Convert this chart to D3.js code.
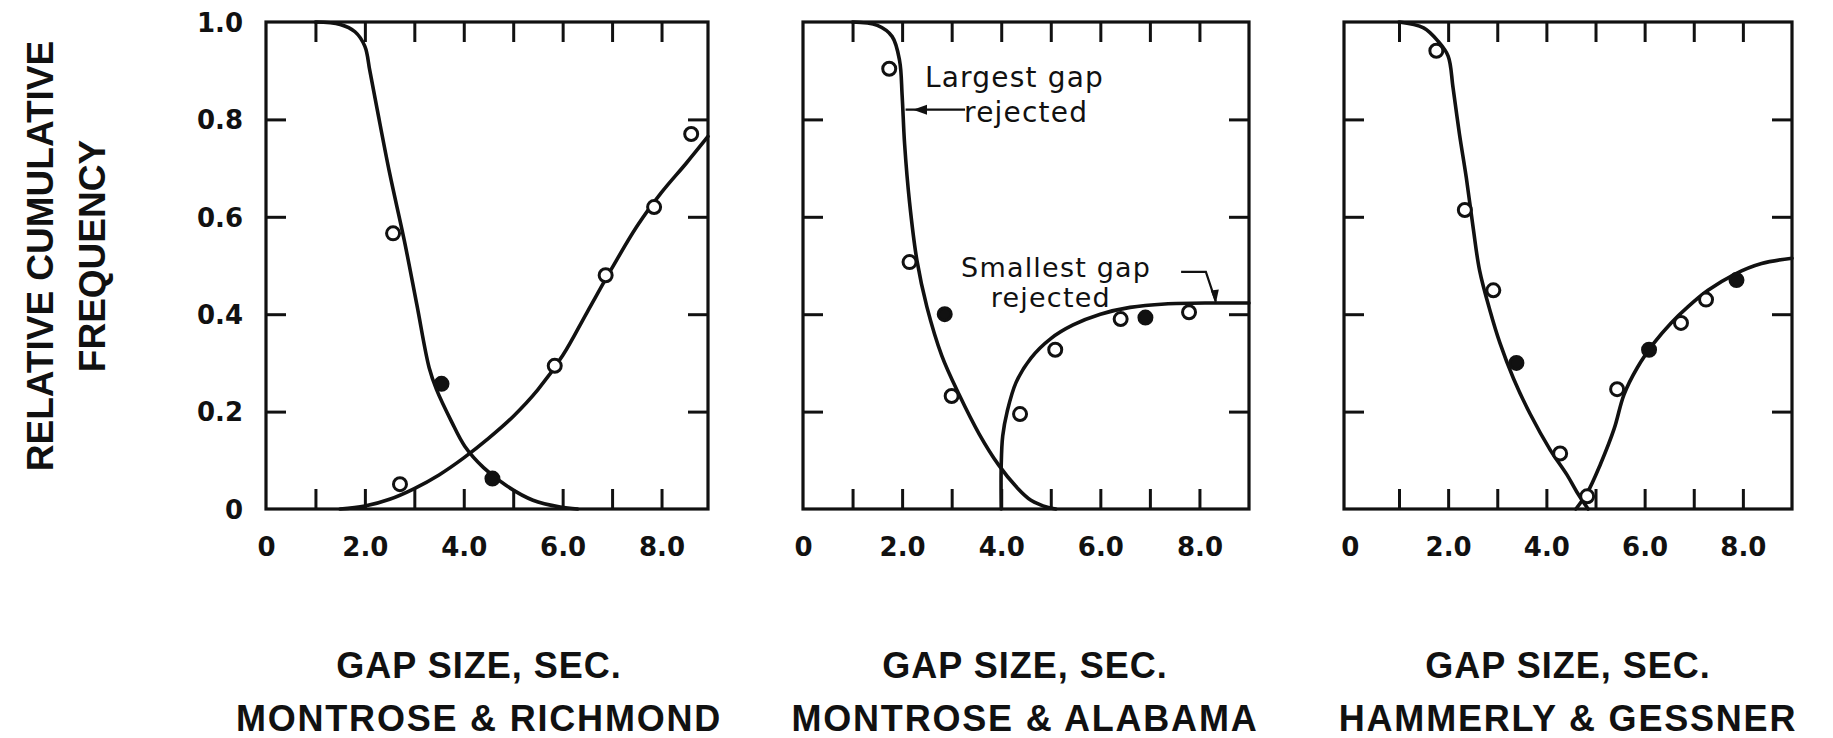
<!DOCTYPE html>
<html>
<head>
<meta charset="utf-8">
<script src="https://cdn.jsdelivr.net/npm/d3@7/dist/d3.min.js"></script>
<style>
  html, body { margin: 0; padding: 0; background: #fff; }
  svg { display: block; }
</style>
</head>
<body>
<svg id="chart" width="1833" height="738"></svg>
<script>
// Relative cumulative frequency of accepted / rejected gaps at three intersections

const stations = ["MONTROSE & RICHMOND", "MONTROSE & ALABAMA", "HAMMERLY & GESSNER"];
const xAxisTitle = "GAP SIZE, SEC.";
const yAxisTitle = ["RELATIVE CUMULATIVE", "FREQUENCY"];

const xTickValues = [0, 2, 4, 6, 8];
const xTickLabels = ["0", "2.0", "4.0", "6.0", "8.0"];
const xMinorTicks = [1, 2, 3, 4, 5, 6, 7, 8];
const yTickValues = [0, 0.2, 0.4, 0.6, 0.8, 1.0];
const yTickLabels = ["0", "0.2", "0.4", "0.6", "0.8", "1.0"];
const yMinorTicks = [0.2, 0.4, 0.6, 0.8];

// Fitted curves: [gap size (sec), relative cumulative frequency]
const richmondLargestCurve = [
  [1.0, 1.0], [1.5, 0.995], [1.8, 0.98], [2.0, 0.95], [2.1, 0.9], [2.25, 0.82],
  [2.5, 0.69], [2.8, 0.55], [3.05, 0.42], [3.3, 0.29], [3.45, 0.245], [3.75, 0.18],
  [4.02, 0.129], [4.4, 0.085], [4.86, 0.048], [5.4, 0.018], [5.95, 0.004], [6.3, 0.0]
];
const richmondSmallestCurve = [
  [1.5, 0.0], [2.0, 0.006], [2.5, 0.02], [3.0, 0.042], [3.5, 0.07], [4.0, 0.105],
  [4.5, 0.145], [5.0, 0.19], [5.5, 0.245], [6.0, 0.315], [6.5, 0.405], [7.0, 0.495],
  [7.5, 0.58], [8.0, 0.65], [8.5, 0.71], [8.94, 0.765]
];
const alabamaLargestCurve = [
  [1.0, 1.0], [1.5, 0.993], [1.8, 0.97], [1.95, 0.92], [2.0, 0.85], [2.05, 0.75],
  [2.15, 0.63], [2.3, 0.51], [2.5, 0.415], [2.8, 0.315], [3.15, 0.235], [3.55, 0.155],
  [3.95, 0.09], [4.3, 0.046], [4.6, 0.018], [4.95, 0.003], [5.1, 0.0]
];
const alabamaSmallestCurve = [
  [4.0, 0.0], [4.0, 0.09], [4.03, 0.15], [4.12, 0.2], [4.3, 0.26], [4.6, 0.31],
  [5.0, 0.35], [5.45, 0.378], [6.0, 0.4], [6.6, 0.414], [7.3, 0.421], [8.3, 0.423],
  [9.0, 0.423]
];
const gessnerLargestCurve = [
  [1.0, 1.0], [1.5, 0.988], [1.8, 0.96], [2.0, 0.93], [2.1, 0.865], [2.23, 0.77],
  [2.37, 0.68], [2.51, 0.577], [2.64, 0.49], [2.85, 0.408], [3.05, 0.342],
  [3.33, 0.268], [3.67, 0.195], [4.08, 0.121], [4.42, 0.07], [4.62, 0.035], [4.85, 0.0]
];
const gessnerSmallestCurve = [
  [4.6, 0.0], [4.83, 0.033], [5.1, 0.092], [5.38, 0.165], [5.58, 0.235], [5.85, 0.29],
  [6.2, 0.342], [6.54, 0.382], [6.88, 0.415], [7.29, 0.449], [7.83, 0.482],
  [8.38, 0.504], [9.0, 0.515]
];

// Observed frequencies
const richmondObserved = [
  [2.57, 0.566], [3.55, 0.257], [2.71, 0.051], [4.58, 0.0625],
  [5.84, 0.294], [6.87, 0.48], [7.85, 0.62], [8.6, 0.77]
];
const alabamaObserved = [
  [1.74, 0.904], [2.15, 0.507], [2.86, 0.40], [3.0, 0.232], [4.38, 0.195],
  [5.09, 0.327], [6.41, 0.39], [6.91, 0.393], [7.79, 0.404]
];
const gessnerObserved = [
  [1.76, 0.941], [2.34, 0.614], [2.92, 0.449], [3.39, 0.30], [4.28, 0.114],
  [4.83, 0.026], [5.44, 0.246], [6.09, 0.327], [6.74, 0.382], [7.25, 0.43], [7.87, 0.47]
];

const curvesByPanel = [
  [richmondLargestCurve, richmondSmallestCurve],
  [alabamaLargestCurve, alabamaSmallestCurve],
  [gessnerLargestCurve, gessnerSmallestCurve]
];
const observedByPanel = [richmondObserved, alabamaObserved, gessnerObserved];
// indices of observations drawn as solid dots
const solidMarks = [[1, 3], [2, 7], [3, 7, 10]];

// Panel frames
const frameTop = 22, frameBottom = 509;
const panels = [
  { left: 266, right: 708, xMin: 0, xMax: 8.94, labelX: 479 },
  { left: 803, right: 1249, xMin: 0, xMax: 9.0, labelX: 1025 },
  { left: 1344, right: 1792, xMin: -0.12, xMax: 9.0, labelX: 1568 }
];

const svg = d3.select("#chart");
const y = d3.scaleLinear().domain([0, 1]).range([frameBottom, frameTop]);
const INK = "#111";
const tickLen = 20;

const labelFont = "'DejaVu Sans', 'Liberation Sans', sans-serif";
const titleFont = "'Liberation Sans', Arial, sans-serif";

panels.forEach((p, i) => {
  const x = d3.scaleLinear().domain([p.xMin, p.xMax]).range([p.left, p.right]);
  const g = svg.append("g").attr("class", "panel");

  // inward ticks on all four sides
  const strip = sel => { sel.select(".domain").remove(); sel.selectAll("line").attr("stroke", INK).attr("stroke-width", 3); };
  g.append("g").attr("transform", `translate(0,${frameBottom})`)
    .call(d3.axisTop(x).tickValues(xMinorTicks).tickSize(tickLen).tickFormat(""))
    .call(strip);
  g.append("g").attr("transform", `translate(0,${frameTop})`)
    .call(d3.axisBottom(x).tickValues(xMinorTicks).tickSize(tickLen).tickFormat(""))
    .call(strip);
  g.append("g").attr("transform", `translate(${p.left},0)`)
    .call(d3.axisRight(y).tickValues(yMinorTicks).tickSize(tickLen).tickFormat(""))
    .call(strip);
  g.append("g").attr("transform", `translate(${p.right},0)`)
    .call(d3.axisLeft(y).tickValues(yMinorTicks).tickSize(tickLen).tickFormat(""))
    .call(strip);

  // frame
  g.append("rect")
    .attr("x", p.left).attr("y", frameTop)
    .attr("width", p.right - p.left).attr("height", frameBottom - frameTop)
    .attr("fill", "none").attr("stroke", INK).attr("stroke-width", 3.2);

  // x tick labels
  const xl = g.append("g").attr("transform", `translate(0,${frameBottom})`)
    .call(d3.axisBottom(x).tickValues(xTickValues).tickSize(0)
      .tickFormat((d, k) => xTickLabels[k]));
  xl.select(".domain").remove();
  xl.selectAll("text")
    .attr("y", 38).attr("dy", "0.36em")
    .attr("font-family", labelFont).attr("font-weight", "bold")
    .attr("font-size", 26).attr("fill", INK);

  // y tick labels on the first panel only
  if (i === 0) {
    const yl = g.append("g").attr("transform", `translate(${p.left},0)`)
      .call(d3.axisLeft(y).tickValues(yTickValues).tickSize(0).tickPadding(23)
        .tickFormat((d, k) => yTickLabels[k]));
    yl.select(".domain").remove();
    yl.selectAll("text")
      .attr("dy", "0.36em")
      .attr("font-family", labelFont).attr("font-weight", "bold")
      .attr("font-size", 26).attr("fill", INK);
  }

  // fitted curves
  const line = d3.line().x(d => x(d[0])).y(d => y(d[1]))
    .curve(d3.curveCatmullRom.alpha(0.5));
  curvesByPanel[i].forEach(c => {
    g.append("path").attr("d", line(c))
      .attr("fill", "none").attr("stroke", INK)
      .attr("stroke-width", 3.6).attr("stroke-linejoin", "round").attr("stroke-linecap", "round");
  });

  // observations
  g.selectAll("circle.obs").data(observedByPanel[i]).join("circle")
    .attr("class", "obs")
    .attr("cx", d => x(d[0])).attr("cy", d => y(d[1])).attr("r", 6.5)
    .attr("fill", (d, k) => solidMarks[i].includes(k) ? INK : "#fff")
    .attr("stroke", INK).attr("stroke-width", 3);

  // axis title and station name
  g.append("text").text(xAxisTitle)
    .attr("x", p.labelX).attr("y", 678).attr("text-anchor", "middle")
    .attr("font-family", titleFont).attr("font-weight", "bold")
    .attr("font-size", 36).attr("letter-spacing", 1).attr("fill", INK);
  g.append("text").text(stations[i])
    .attr("x", p.labelX).attr("y", 731).attr("text-anchor", "middle")
    .attr("font-family", titleFont).attr("font-weight", "bold")
    .attr("font-size", 36).attr("letter-spacing", 1.8).attr("fill", INK);

  if (i === 1) drawAnnotations(g, x);
});

function drawAnnotations(g, x) {
  const noteFont = "'DejaVu Sans', 'Liberation Sans', sans-serif";
  const note = (txt, xv, yv, size) => g.append("text").text(txt)
    .attr("x", x(xv)).attr("y", y(yv))
    .attr("font-family", noteFont).attr("font-size", size)
    .attr("letter-spacing", 1.2).attr("fill", INK);

  note("Largest gap", 2.46, 0.866, 28);
  note("rejected", 3.25, 0.795, 28);
  note("Smallest gap", 3.19, 0.477, 27);
  note("rejected", 3.79, 0.414, 27);

  // arrow to the falling curve
  const ay = y(0.82);
  g.append("line")
    .attr("x1", x(3.27)).attr("y1", ay).attr("x2", x(2.07)).attr("y2", ay)
    .attr("stroke", INK).attr("stroke-width", 2.4);
  const tip = x(2.22);
  g.append("path")
    .attr("d", `M${tip},${ay} L${tip + 14},${ay - 5} L${tip + 14},${ay + 5} Z`)
    .attr("fill", INK);

  // leader to the plateau of the rising curve
  const pts = [[7.63, 0.487], [8.13, 0.487], [8.33, 0.426]].map(d => [x(d[0]), y(d[1])]);
  g.append("path").attr("d", d3.line()(pts))
    .attr("fill", "none").attr("stroke", INK).attr("stroke-width", 2.2);
  const [ex, ey] = pts[2];
  g.append("path")
    .attr("d", `M${ex},${ey + 2} L${ex - 5},${ey - 11} L${ex + 3},${ey - 12} Z`)
    .attr("fill", INK);
}

// shared y-axis title
const yt = svg.append("g").attr("class", "y-title");
[[53, yAxisTitle[0]], [105, yAxisTitle[1]]].forEach(([bx, txt]) => {
  yt.append("text").text(txt)
    .attr("transform", `translate(${bx},256) rotate(-90)`)
    .attr("text-anchor", "middle")
    .attr("font-family", titleFont).attr("font-weight", "bold")
    .attr("font-size", 37).attr("fill", INK);
});
</script>
</body>
</html>
